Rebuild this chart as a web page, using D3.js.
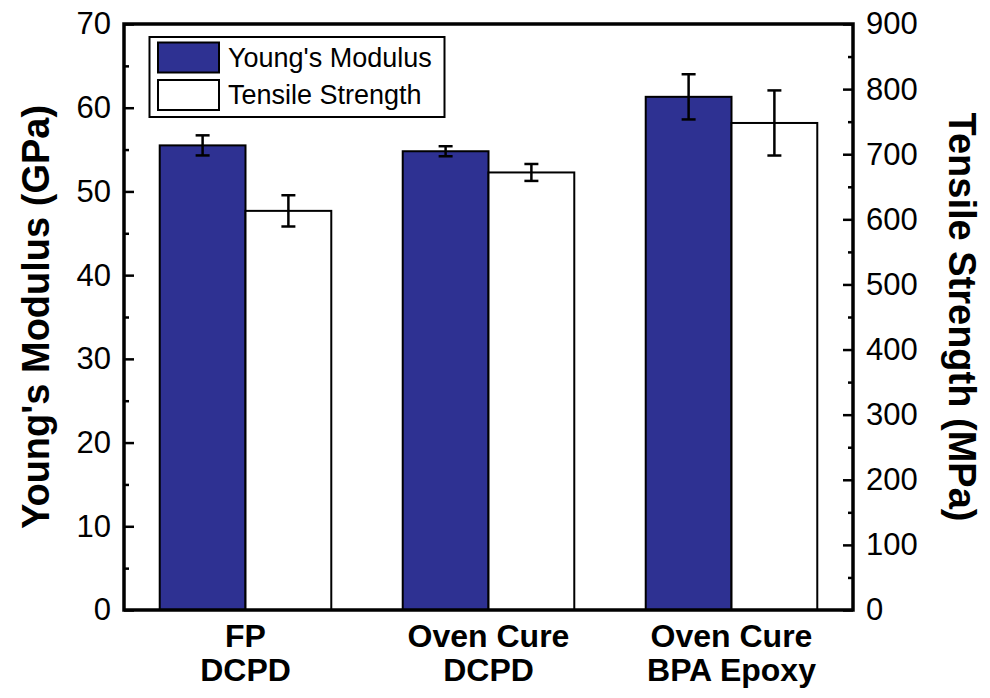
<!DOCTYPE html>
<html>
<head>
<meta charset="utf-8">
<script src="https://cdn.jsdelivr.net/npm/d3@7"></script>
<style>
  body { margin: 0; background: #fff; }
  svg { display: block; font-family: "Liberation Sans", Arial, sans-serif; }
</style>
</head>
<body>
<svg id="chart" width="990" height="698"></svg>
<script>
// data
var categories = ["FP|DCPD", "Oven Cure|DCPD", "Oven Cure|BPA Epoxy"];
var seriesNames = ["Young's Modulus", "Tensile Strength"];
var modulus = [55.5, 54.8, 61.3];      // GPa
var modulusErr = [1.2, 0.6, 2.7];
var strength = [613, 672, 748];        // MPa
var strengthErr = [24, 13, 50];
var leftTicks = [0, 10, 20, 30, 40, 50, 60, 70];
var rightTicks = [0, 100, 200, 300, 400, 500, 600, 700, 800, 900];

var BLUE = "#2e3192";
var AXIS_W = 3.5;

var svg = d3.select("#chart");
var plot = { left: 124, right: 853, top: 24, bottom: 610 };

var x0 = d3.scaleBand()
	.domain(categories)
	.range([plot.left, plot.right])
	.paddingInner(0.294)
	.paddingOuter(0.147);

var x1 = d3.scaleBand()
	.domain(seriesNames)
	.range([0, x0.bandwidth()]);

var yL = d3.scaleLinear().domain([0, 70]).range([plot.bottom, plot.top]);
var yR = d3.scaleLinear().domain([0, 900]).range([plot.bottom, plot.top]);

// bars
var rows = categories.map(function(c, i) {
	return [
		{ cat: c, name: seriesNames[0], v: modulus[i], e: modulusErr[i], y: yL, fill: BLUE },
		{ cat: c, name: seriesNames[1], v: strength[i], e: strengthErr[i], y: yR, fill: "#fff" }
	];
});
var flat = [].concat.apply([], rows);

var bars = svg.append("g");
bars.selectAll("rect")
	.data(flat)
	.enter().append("rect")
	.attr("x", function(d) { return x0(d.cat) + x1(d.name); })
	.attr("y", function(d) { return d.y(d.v); })
	.attr("width", x1.bandwidth())
	.attr("height", function(d) { return plot.bottom - d.y(d.v); })
	.attr("fill", function(d) { return d.fill; })
	.attr("stroke", "#000")
	.attr("stroke-width", 2);

// error bars
var CAP = 7;
var err = svg.append("g").attr("stroke", "#000").attr("stroke-width", 2.5);
flat.forEach(function(d) {
	var cx = x0(d.cat) + x1(d.name) + x1.bandwidth() / 2;
	var yt = d.y(d.v + d.e), yb = d.y(d.v - d.e);
	err.append("line").attr("x1", cx).attr("x2", cx).attr("y1", yt).attr("y2", yb);
	err.append("line").attr("x1", cx - CAP).attr("x2", cx + CAP).attr("y1", yt).attr("y2", yt);
	err.append("line").attr("x1", cx - CAP).attr("x2", cx + CAP).attr("y1", yb).attr("y2", yb);
});

// axes (ticks point inward)
function styleAxis(g) {
	g.select(".domain").remove();
	g.selectAll(".tick line").attr("stroke", "#000").attr("stroke-width", 2.5);
	g.selectAll(".tick text").attr("fill", "#000").style("font-size", "31px");
}

var minorL = d3.range(5, 70, 10);
var minorR = d3.range(50, 900, 100);

svg.append("g")
	.attr("transform", "translate(" + plot.left + ",0)")
	.call(d3.axisLeft(yL).tickValues(leftTicks).tickSize(-10).tickPadding(13))
	.call(styleAxis);
svg.append("g")
	.attr("transform", "translate(" + plot.left + ",0)")
	.call(d3.axisLeft(yL).tickValues(minorL).tickSize(-5).tickFormat(""))
	.call(styleAxis);

svg.append("g")
	.attr("transform", "translate(" + plot.right + ",0)")
	.call(d3.axisRight(yR).tickValues(rightTicks).tickSize(-10).tickPadding(13))
	.call(styleAxis);
svg.append("g")
	.attr("transform", "translate(" + plot.right + ",0)")
	.call(d3.axisRight(yR).tickValues(minorR).tickSize(-5).tickFormat(""))
	.call(styleAxis);

// frame
svg.append("rect")
	.attr("x", plot.left).attr("y", plot.top)
	.attr("width", plot.right - plot.left)
	.attr("height", plot.bottom - plot.top)
	.attr("fill", "none")
	.attr("stroke", "#000")
	.attr("stroke-width", AXIS_W);

// category labels
var catG = svg.append("g")
	.attr("text-anchor", "middle")
	.style("font-size", "32px")
	.style("font-weight", "bold");
categories.forEach(function(c) {
	var parts = c.split("|");
	var cx = x0(c) + x0.bandwidth() / 2;
	parts.forEach(function(p, j) {
		catG.append("text")
			.attr("x", cx)
			.attr("y", 647 + j * 34)
			.text(p);
	});
});

// axis titles
var midY = (plot.top + plot.bottom) / 2;
svg.append("text")
	.attr("transform", "translate(49," + midY + ") rotate(-90)")
	.attr("text-anchor", "middle")
	.style("font-size", "38px")
	.style("font-weight", "bold")
	.text("Young's Modulus (GPa)");
svg.append("text")
	.attr("transform", "translate(949," + midY + ") rotate(90)")
	.attr("text-anchor", "middle")
	.style("font-size", "38px")
	.style("font-weight", "bold")
	.text("Tensile Strength (MPa)");

// legend
var legend = svg.append("g");
legend.append("rect")
	.attr("x", 149.5).attr("y", 37)
	.attr("width", 295).attr("height", 80)
	.attr("fill", "#fff").attr("stroke", "#000").attr("stroke-width", 2);
var fills = [BLUE, "#fff"];
seriesNames.forEach(function(name, i) {
	var top = 42.5 + i * 37.5;
	legend.append("rect")
		.attr("x", 158).attr("y", top)
		.attr("width", 61).attr("height", 30)
		.attr("fill", fills[i]).attr("stroke", "#000").attr("stroke-width", 2);
	legend.append("text")
		.attr("x", 228).attr("y", top + 24)
		.style("font-size", "27px")
		.text(name);
});
</script>
</body>
</html>
